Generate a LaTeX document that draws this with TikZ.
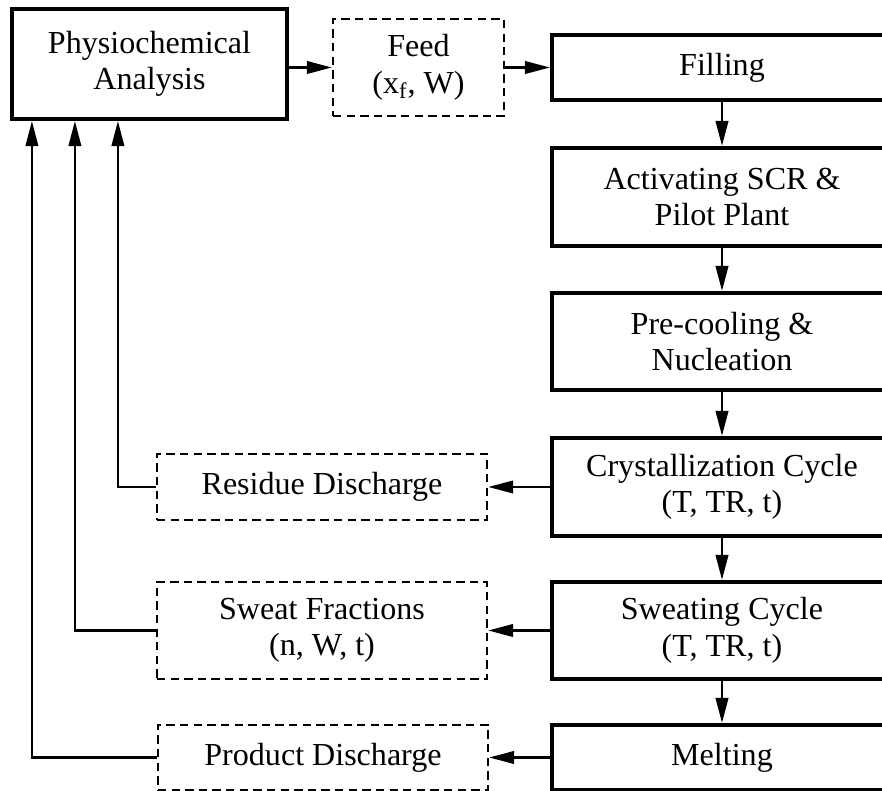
\documentclass[tikz,border=0pt]{standalone}
\usepackage{fontspec}
\setmainfont{Liberation Serif}
\usepackage{tikz}
\usetikzlibrary{shapes,arrows.meta,positioning}
\usepackage{xcolor}

\begin{document}
\begin{tikzpicture}[node distance=1.5cm, auto]

  % Define styles for boxes and arrows
  \tikzstyle{procbox} = [rectangle, draw, line width=1.9pt, align=center, inner sep=0pt, minimum width=5.44cm, font=\fontsize{14.6}{16.6}\selectfont]
  \tikzstyle{databox} = [rectangle, draw, dash pattern=on 3.8pt off 2.4pt, line width=1.1pt, align=center, inner sep=0pt, font=\fontsize{14.6}{16.6}\selectfont]
  \tikzstyle{flow} = [line width=1.1pt, -{Triangle[length=4mm,width=2mm]}]
  \tikzstyle{fb} = [line width=1pt, -{Triangle[length=4mm,width=2mm]}]

  % Page size
  \useasboundingbox (0,0) rectangle (14.112,-12.656);
  \clip (0,0) rectangle (14.112,-12.656);

  % Analysis and feed
  \node[procbox, minimum width=4.4cm, minimum height=1.76cm] (analysis) at (2.392,-1.024) {Physiochemical\\Analysis};
  \node[databox, minimum width=2.736cm, minimum height=1.552cm] (feed) at (6.696,-1.08) {Feed\\(x\textsubscript{f}, W)};

  % Process steps
  \node[procbox, minimum height=1.04cm] (filling) at (11.552,-1.08) {Filling};
  \node[procbox, minimum height=1.568cm] (activating) at (11.552,-3.152) {Activating SCR \&\\Pilot Plant};
  \node[procbox, minimum height=1.552cm] (precooling) at (11.552,-5.464) {Pre-cooling \&\\Nucleation};
  \node[procbox, minimum height=1.568cm] (crystallization) at (11.552,-7.792) {Crystallization Cycle\\(T, TR, t)};
  \node[procbox, minimum height=1.552cm] (sweating) at (11.552,-10.088) {Sweating Cycle\\(T, TR, t)};
  \node[procbox, minimum height=1.04cm] (melting) at (11.552,-12.12) {Melting};

  % Outputs
  \node[databox, minimum width=5.28cm, minimum height=1.056cm] (residue) at (5.152,-7.792) {Residue Discharge};
  \node[databox, minimum width=5.28cm, minimum height=1.552cm] (fractions) at (5.152,-10.088) {Sweat Fractions\\(n, W, t)};
  \node[databox, minimum width=5.28cm, minimum height=1.04cm] (product) at (5.168,-12.12) {Product Discharge};

  % Main flow
  \draw[flow] (feed.west -| analysis.east) -- (feed.west);
  \draw[flow] (feed.east) -- (filling.west);
  \draw[flow] (filling.south) -- (activating.north);
  \draw[flow] (activating.south) -- (precooling.north);
  \draw[flow] (precooling.south) -- (crystallization.north);
  \draw[flow] (crystallization.south) -- (sweating.north);
  \draw[flow] (sweating.south) -- (melting.north);

  % Discharges
  \draw[flow] (crystallization.west) -- (residue.east);
  \draw[flow] (sweating.west) -- (fractions.east);
  \draw[flow] (melting.west) -- (product.east);

  % Back to analysis
  \draw[fb] (residue.west) -| ([xshift=1.728cm]analysis.south west);
  \draw[fb] (fractions.west) -| ([xshift=1.04cm]analysis.south west);
  \draw[fb] (product.west) -| ([xshift=0.352cm]analysis.south west);

\end{tikzpicture}
\end{document}
